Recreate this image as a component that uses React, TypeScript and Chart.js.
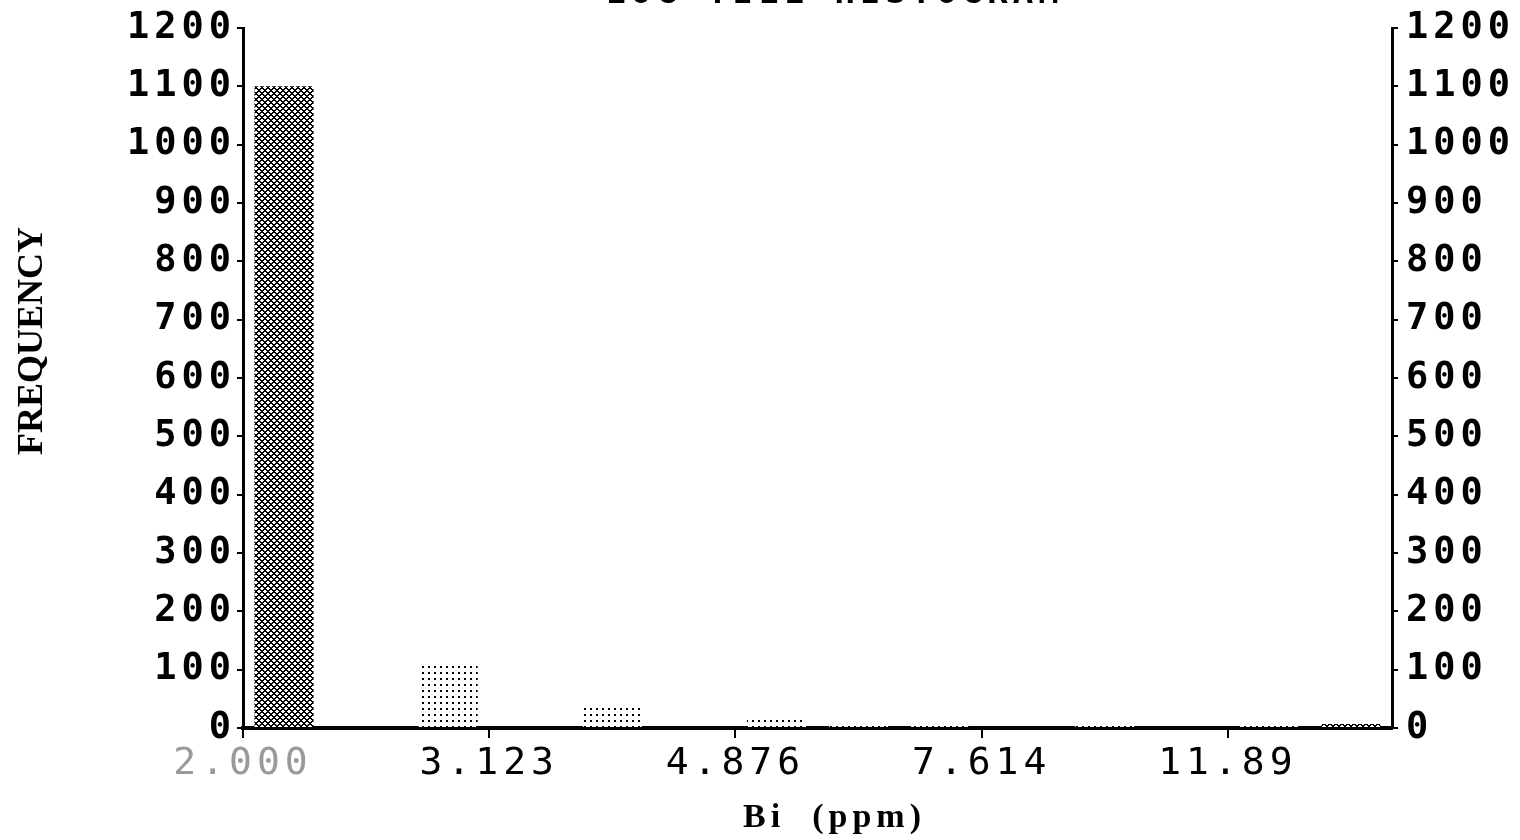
import { useEffect, useRef } from 'react';
import { Chart, registerables } from 'chart.js';

Chart.register(...registerables);

// Frequency per log-spaced bin (14 bins, 3 bins per labelled interval)
const binCounts = [1100, 0, 113, 0, 38, 0, 17, 5, 5, 0, 5, 0, 5, 7];
// Fill pattern for each bin
const binFills = ['cross', 'dots', 'dots', 'dots', 'dots', 'dots', 'dots', 'dots', 'dots', 'dots', 'dots', 'dots', 'dots', 'cross'];
// Bin-edge positions that carry a value label, and their labels
const xTickPositions = [0, 3, 6, 9, 12];
const xTickLabels = ['2.000', '3.123', '4.876', '7.614', '11.89'];
const binCountTotal = 14;

const yMin = 0;
const yMax = 1200;
const yStep = 100;

const chartTitle = 'LOG TILL HISTOGRAM';
const xTitle = 'Bi  (ppm)';
const yTitle = 'FREQUENCY';

function makeTile(size: number, paint: (x: number, y: number) => boolean): HTMLCanvasElement {
  const c = document.createElement('canvas');
  c.width = size;
  c.height = size;
  const g = c.getContext('2d')!;
  const img = g.createImageData(size, size);
  for (let y = 0; y < size; y++) {
    for (let x = 0; x < size; x++) {
      const i = (y * size + x) * 4;
      const v = paint(x, y) ? 0 : 255;
      img.data[i] = v;
      img.data[i + 1] = v;
      img.data[i + 2] = v;
      img.data[i + 3] = 255;
    }
  }
  g.putImageData(img, 0, 0);
  return c;
}

const tickFont = { family: '"DejaVu Sans Mono", monospace', size: 37, weight: 'bold' as const, lineHeight: 1 };
const xTickFont = { family: '"DejaVu Sans Mono", monospace', size: 38, weight: 'normal' as const, lineHeight: 1 };

const spacingPlugin = {
  id: 'tickSpacing',
  beforeLayout(chart: any) {
    chart.ctx.letterSpacing = '5px';
  },
  beforeDraw(chart: any) {
    chart.ctx.letterSpacing = '5px';
  },
};

const titlesPlugin = {
  id: 'histTitles',
  afterDraw(chart: any) {
    const { ctx, chartArea } = chart;
    const cx = (chartArea.left + chartArea.right) / 2 + 17;
    ctx.save();
    ctx.fillStyle = '#000';

    // Heading sits mostly above the canvas top edge
    ctx.letterSpacing = '5px';
    ctx.font = 'bold 34px "DejaVu Sans Mono", monospace';
    ctx.textAlign = 'center';
    ctx.textBaseline = 'alphabetic';
    ctx.fillText(chartTitle, cx, 3);

    // X axis title
    ctx.letterSpacing = '5px';
    ctx.font = 'bold 34px "Liberation Serif", serif';
    ctx.textBaseline = 'middle';
    ctx.fillText(xTitle, cx, chartArea.bottom + 90);

    // Y axis title, rotated
    ctx.letterSpacing = '0px';
    ctx.font = 'bold 36px "Liberation Serif", serif';
    ctx.translate(33, chartArea.top + chartArea.height * 0.447);
    ctx.rotate(-Math.PI / 2);
    ctx.textAlign = 'center';
    ctx.textBaseline = 'middle';
    ctx.fillText(yTitle, 0, 0);
    ctx.restore();
  },
};

const plainNumber = (v: any) => String(v);

export default function App() {
  const canvasRef = useRef<HTMLCanvasElement | null>(null);

  useEffect(() => {
    const canvas = canvasRef.current;
    if (!canvas) return;
    const ctx = canvas.getContext('2d')!;

    const crossTile = makeTile(6, (x, y) => (x + y) % 6 < 2 || (x - y + 6) % 6 < 2);
    const dotTile = makeTile(6, (x, y) => x >= 2 && x < 4 && y < 2);
    const crossPattern = ctx.createPattern(crossTile, 'repeat')!;
    const dotPattern = ctx.createPattern(dotTile, 'repeat')!;

    const chart = new Chart(canvas, {
      type: 'bar',
      data: {
        datasets: [
          {
            data: binCounts.map((v, i) => ({ x: i + 0.5, y: v })),
            backgroundColor: binFills.map((f) => (f === 'cross' ? crossPattern : dotPattern)),
            borderWidth: 0,
            categoryPercentage: 1,
            barPercentage: 0.72,
            inflateAmount: 0,
          } as any,
        ],
      },
      options: {
        responsive: false,
        animation: false,
        layout: { padding: { top: 28, left: 0, right: 0, bottom: 0 } },
        plugins: {
          legend: { display: false },
          tooltip: { enabled: false },
          title: { display: false },
        },
        scales: {
          x: {
            type: 'linear',
            position: 'bottom',
            min: 0,
            max: binCountTotal,
            offset: false,
            afterFit: (s: any) => {
              s.height = 112;
            },
            afterBuildTicks: (s: any) => {
              s.ticks = xTickPositions.map((v) => ({ value: v }));
            },
            ticks: {
              autoSkip: false,
              maxRotation: 0,
              padding: 7,
              font: xTickFont,
              color: (c: any) => (c.index === 0 ? '#9a9a9a' : '#000'),
              callback: (v: any) => {
                const i = xTickPositions.indexOf(Number(v));
                return i >= 0 ? xTickLabels[i] : '';
              },
            },
            grid: { offset: false, drawOnChartArea: false, drawTicks: true, tickLength: 10, lineWidth: 2, color: '#000' },
            border: { display: true, color: '#000', width: 4 },
          },
          y: {
            type: 'linear',
            position: 'left',
            min: yMin,
            max: yMax,
            afterFit: (s: any) => {
              s.width = 243;
            },
            ticks: { stepSize: yStep, padding: 1, font: tickFont, color: '#000', callback: plainNumber },
            grid: { drawOnChartArea: false, drawTicks: true, tickLength: 6, lineWidth: 2, color: '#000' },
            border: { display: true, color: '#000', width: 3 },
          },
          y2: {
            type: 'linear',
            position: 'right',
            min: yMin,
            max: yMax,
            afterFit: (s: any) => {
              s.width = 128;
            },
            ticks: { stepSize: yStep, padding: 8, font: tickFont, color: '#000', callback: plainNumber },
            grid: { drawOnChartArea: false, drawTicks: true, tickLength: 6, lineWidth: 2, color: '#000' },
            border: { display: true, color: '#000', width: 3 },
          },
        },
      } as any,
      plugins: [spacingPlugin, titlesPlugin],
    });

    return () => chart.destroy();
  }, []);

  return (
    <div style={{ position: 'fixed', left: 0, top: 0, width: 1520, height: 840, background: '#fff' }}>
      <canvas ref={canvasRef} width={1520} height={840} style={{ display: 'block', width: 1520, height: 840 }} />
    </div>
  );
}
